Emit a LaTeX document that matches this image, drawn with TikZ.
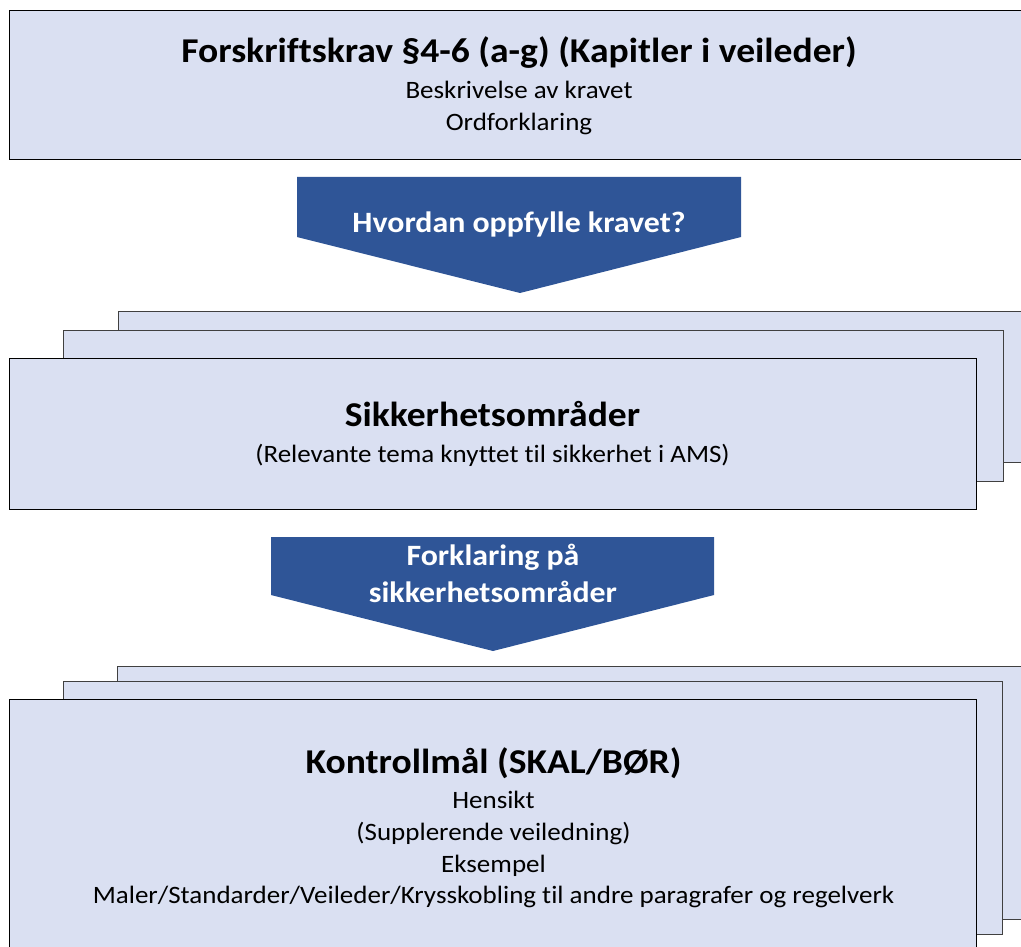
\documentclass[tikz,border=0pt]{standalone}
\usepackage{fontspec}
\setmainfont{Carlito}[FakeStretch=1.08, Ligatures=NoCommon]
\definecolor{boxfill}{HTML}{DAE0F2}
\definecolor{arrowblue}{HTML}{2F5597}
\definecolor{edgegray}{HTML}{404040}
\tikzset{
  panel/.style={draw=edgegray, fill=boxfill, line width=1.2pt, inner sep=0pt, anchor=north west},
  frontpanel/.style={panel, draw=black},
  chevron/.style={fill=arrowblue, draw=none},
  titletext/.style={font=\fontsize{34.8}{40}\selectfont\bfseries, inner sep=0pt, anchor=base},
  bodytext/.style={font=\fontsize{25}{30}\selectfont, inner sep=0pt, anchor=base},
  arrowtext/.style={text=white, font=\fontsize{29.5}{34}\selectfont\bfseries, inner sep=0pt, anchor=base}
}
\begin{document}
\begin{tikzpicture}[x=1pt,y=-1pt]
\useasboundingbox (0,0) rectangle (1021,947);
\clip (0,0) rectangle (1021,947);
% top box
\node[frontpanel, minimum width=1030pt, minimum height=149pt] (top) at (9,10) {};
\node[titletext] (toptitle) at (519,63) {Forskriftskrav §4-6 (a-g) (Kapitler i veileder)};
\node[bodytext] (topl1) at (519,99) {Beskrivelse av kravet};
\node[bodytext] (topl2) at (519,131) {Ordforklaring};
% arrow 1
\fill[chevron] (297,177) -- (741,177) -- (741,237) -- (520,293) -- (297,237) -- cycle;
\node[arrowtext] (a1) at (519,233) {Hvordan oppfylle kravet?};
% stack 1
\node[panel, minimum width=920pt, minimum height=151pt] (s1back) at (118,311) {};
\node[panel, minimum width=940pt, minimum height=151pt] (s1mid) at (63,330) {};
\node[frontpanel, minimum width=967pt, minimum height=151pt] (s1front) at (9,358) {};
\node[titletext] (s1title) at (492.5,426) {Sikkerhetsområder};
\node[bodytext] (s1l1) at (492.5,462) {(Relevante tema knyttet til sikkerhet i AMS)};
% arrow 2
\fill[chevron] (271,537) -- (714,537) -- (714,595) -- (493,651) -- (271,595) -- cycle;
\node[arrowtext] (a2l1) at (493,565) {Forklaring på};
\node[arrowtext] (a2l2) at (493,602) {sikkerhetsområder};
% stack 2
\node[panel, minimum width=920pt, minimum height=253pt] (s2back) at (117,666) {};
\node[panel, minimum width=939pt, minimum height=253pt] (s2mid) at (63,681) {};
\node[frontpanel, minimum width=967pt, minimum height=280pt] (s2front) at (9,699) {};
\node[titletext] (s2title) at (493.5,773) {Kontrollmål (SKAL/BØR)};
\node[bodytext] (s2l1) at (493.5,808) {Hensikt};
\node[bodytext] (s2l2) at (493.5,840) {(Supplerende veiledning)};
\node[bodytext] (s2l3) at (493.5,872) {Eksempel};
\node[bodytext] (s2l4) at (493.5,903) {Maler/Standarder/Veileder/Krysskobling til andre paragrafer og regelverk};
\end{tikzpicture}
\end{document}
